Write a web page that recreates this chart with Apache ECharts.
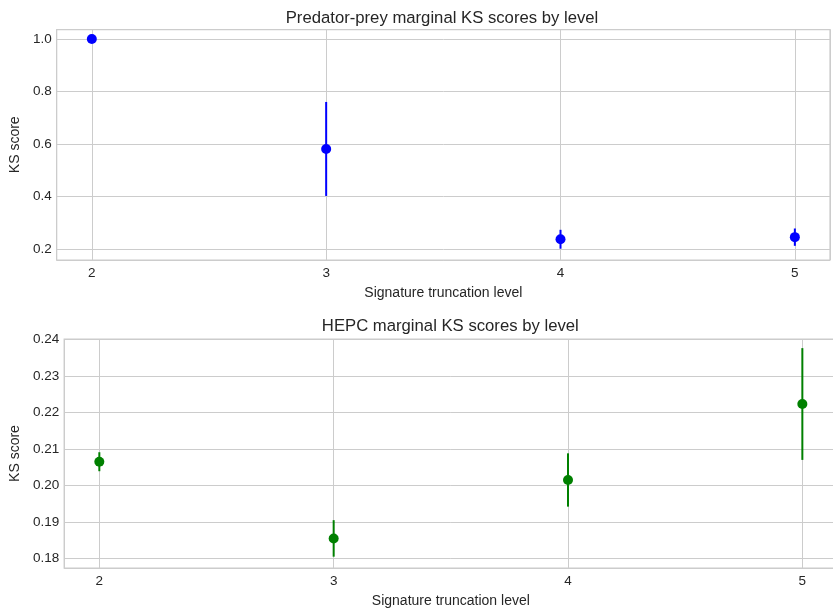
<!DOCTYPE html>
<html>
<head>
<meta charset="utf-8">
<script src="https://cdn.jsdelivr.net/npm/echarts@6/dist/echarts.min.js"></script>
<style>
html,body{margin:0;padding:0;background:#fff;overflow:hidden;}
#main{width:840px;height:609px;}
</style>
</head>
<body>
<div id="main"></div>
<script>
// ---- data ----
var levels = [2, 3, 4, 5];
var ppMean = [1.000, 0.581, 0.237, 0.245];
var ppErr  = [0.000, 0.179, 0.036, 0.033];
var hepcMean = [0.2065, 0.1855, 0.2015, 0.2223];
var hepcErr  = [0.0026, 0.0050, 0.0073, 0.0153];
var titles = ['Predator-prey marginal KS scores by level', 'HEPC marginal KS scores by level'];
var xName = 'Signature truncation level';
var yName = 'KS score';

var textColor = '#262626';
var gridColor = '#cccccc';
var font = 'Liberation Sans, Arial, sans-serif';

function pts(means) { return levels.map(function (l, i) { return [l, means[i]]; }); }
function bars(means, errs) { return levels.map(function (l, i) { return [l, means[i] - errs[i], means[i] + errs[i]]; }); }

function errRender(color) {
  return function (params, api) {
    var x = api.value(0);
    var p1 = api.coord([x, api.value(1)]);
    var p2 = api.coord([x, api.value(2)]);
    return {
      type: 'line',
      shape: { x1: p1[0], y1: p1[1], x2: p2[0], y2: p2[1] },
      style: { stroke: color, lineWidth: 2 }
    };
  };
}

function stepFormatter(step, digits) {
  return function (v) {
    var k = Math.round(v / step);
    if (Math.abs(v - k * step) > step * 1e-3) return '';
    return (k * step).toFixed(digits);
  };
}

function xAxisCfg(gi) {
  return {
    type: 'value', gridIndex: gi, min: 1.85, max: 5.15, splitNumber: 3,
    name: xName, nameLocation: 'middle', nameGap: 26,
    nameTextStyle: { color: textColor, fontSize: 14, fontFamily: font },
    axisLine: { show: false }, axisTick: { show: false },
    axisLabel: { color: textColor, fontSize: 13.5, fontFamily: font, margin: 6,
      formatter: stepFormatter(1, 0), showMinLabel: false, showMaxLabel: false },
    splitLine: { show: true, lineStyle: { color: gridColor, width: 1 } }
  };
}

var option = {
  backgroundColor: '#ffffff',
  animation: false,
  title: [
    { text: titles[0], left: 437, textAlign: 'center', top: 5,
      textStyle: { color: textColor, fontSize: 16.7, fontWeight: 'normal', fontFamily: font } },
    { text: titles[1], left: 445.3, textAlign: 'center', top: 313,
      textStyle: { color: textColor, fontSize: 16.7, fontWeight: 'normal', fontFamily: font } }
  ],
  grid: [
    { left: 55.5, width: 774.5, top: 29.5, height: 230.5, show: true, borderColor: gridColor, borderWidth: 1.25, backgroundColor: 'transparent' },
    { left: 63, width: 774.5, top: 339, height: 230, show: true, borderColor: gridColor, borderWidth: 1.25, backgroundColor: 'transparent' }
  ],
  xAxis: [xAxisCfg(0), xAxisCfg(1)],
  yAxis: [
    { type: 'value', gridIndex: 0, min: 0.158, max: 1.036, splitNumber: 4,
      name: yName, nameLocation: 'middle', nameGap: 31, nameRotate: 90,
      nameTextStyle: { color: textColor, fontSize: 14, fontFamily: font },
      axisLine: { show: false }, axisTick: { show: false },
      axisLabel: { color: textColor, fontSize: 13.5, fontFamily: font, margin: 5,
        formatter: stepFormatter(0.2, 1), showMinLabel: false, showMaxLabel: false },
      splitLine: { show: true, lineStyle: { color: gridColor, width: 1 } } },
    { type: 'value', gridIndex: 1, min: 0.1774, max: 0.2401, splitNumber: 6,
      name: yName, nameLocation: 'middle', nameGap: 38.5, nameRotate: 90,
      nameTextStyle: { color: textColor, fontSize: 14, fontFamily: font },
      axisLine: { show: false }, axisTick: { show: false },
      axisLabel: { color: textColor, fontSize: 13.5, fontFamily: font, margin: 5,
        formatter: stepFormatter(0.01, 2) },
      splitLine: { show: true, lineStyle: { color: gridColor, width: 1 } } }
  ],
  series: [
    { type: 'custom', xAxisIndex: 0, yAxisIndex: 0, data: bars(ppMean, ppErr),
      renderItem: errRender('#0000ff'), encode: { x: 0, y: [1, 2] }, z: 2 },
    { type: 'scatter', xAxisIndex: 0, yAxisIndex: 0, data: pts(ppMean),
      symbolSize: 10, itemStyle: { color: '#0000ff', opacity: 1 }, z: 3 },
    { type: 'custom', xAxisIndex: 1, yAxisIndex: 1, data: bars(hepcMean, hepcErr),
      renderItem: errRender('#008000'), encode: { x: 0, y: [1, 2] }, z: 2 },
    { type: 'scatter', xAxisIndex: 1, yAxisIndex: 1, data: pts(hepcMean),
      symbolSize: 10, itemStyle: { color: '#008000', opacity: 1 }, z: 3 }
  ]
};

var chart = echarts.init(document.getElementById('main'), null, { renderer: 'canvas' });
chart.setOption(option);
</script>
</body>
</html>
